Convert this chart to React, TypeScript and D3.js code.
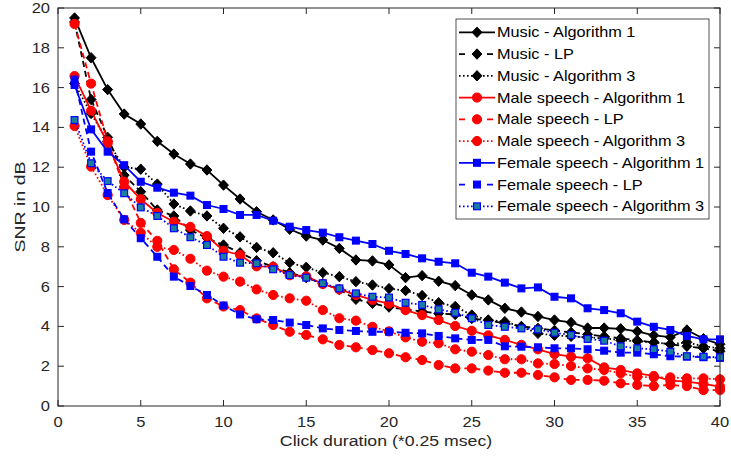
import React from "react";
import * as d3 from "d3";

const clickDuration = [1,2,3,4,5,6,7,8,9,10,11,12,13,14,15,16,17,18,19,20,21,22,23,24,25,26,27,28,29,30,31,32,33,34,35,36,37,38,39,40];

const musicAlg1 = [19.5,17.5,15.9,14.67,14.17,13.3,12.66,12.16,11.86,11.1,10.4,9.76,9.35,8.88,8.54,8.34,7.92,7.34,7.29,7.09,6.45,6.55,6.27,6.05,5.58,5.33,4.91,4.72,4.5,4.32,4.2,3.92,3.92,3.88,3.75,3.55,3.46,3.82,3.38,3.1];
const musicLP = [19.3,15.4,13.5,11.6,10.77,9.85,9.55,8.84,8.44,8.09,7.7,7.3,7.0,6.7,6.45,6.15,5.85,5.36,5.16,4.97,4.85,4.75,4.65,4.6,4.4,4.3,4.15,4.0,3.9,3.8,3.7,3.6,3.5,3.4,3.3,3.2,3.1,3.0,2.9,2.75];
const musicAlg3 = [16.2,14.7,13.3,12.0,11.9,11.15,10.15,9.8,9.55,8.93,8.5,7.97,7.7,7.2,6.97,6.7,6.5,6.25,6.08,5.9,5.8,5.55,5.19,5.0,4.57,4.32,4.24,3.98,3.65,3.55,3.5,3.45,3.4,3.3,3.25,3.2,3.1,3.2,3.0,2.9];
const maleAlg1 = [16.58,14.84,13.2,11.27,10.39,9.7,9.26,9.0,8.54,7.8,7.59,7.02,7.0,6.57,6.52,6.13,5.86,5.58,5.33,5.14,4.82,4.57,4.32,4.02,3.78,3.55,3.32,3.07,2.85,2.61,2.48,2.4,1.94,1.81,1.64,1.51,1.27,1.22,1.11,0.97];
const maleLP = [19.2,16.2,13.3,11.0,9.2,8.3,6.87,6.2,5.41,5.0,4.82,4.4,4.07,3.73,3.57,3.35,3.07,2.95,2.81,2.65,2.45,2.31,2.06,1.89,1.89,1.78,1.67,1.67,1.56,1.44,1.31,1.31,1.27,1.14,1.06,1.0,1.06,1.0,0.8,0.8];
const maleAlg3 = [14.07,12.03,10.6,9.35,8.7,8.0,7.84,7.4,6.8,6.5,6.25,5.86,5.58,5.41,5.29,4.82,4.41,4.29,3.98,3.75,3.45,3.23,3.15,2.85,2.73,2.56,2.35,2.35,2.14,2.11,2.01,1.89,1.81,1.64,1.47,1.44,1.44,1.39,1.39,1.34];
const femaleAlg1 = [16.13,13.9,12.78,12.1,11.27,10.97,10.72,10.57,10.1,9.9,9.6,9.6,9.31,9.01,8.84,8.71,8.48,8.31,8.14,7.8,7.64,7.42,7.25,7.17,6.7,6.5,6.2,5.91,5.96,5.49,5.41,4.91,4.82,4.66,4.24,3.98,3.82,3.52,3.35,3.35];
const femaleLP = [16.4,12.78,10.7,9.38,8.43,7.5,6.5,6.03,5.58,5.05,4.6,4.36,4.32,4.19,4.07,3.9,3.82,3.77,3.73,3.73,3.68,3.65,3.52,3.4,3.32,3.32,3.0,2.98,2.95,2.9,2.9,2.85,2.78,2.68,2.68,2.6,2.5,2.48,2.45,2.42];
const femaleAlg3 = [14.37,12.2,11.3,10.69,9.98,9.55,8.93,8.48,8.09,7.5,7.2,7.17,6.87,6.58,6.45,6.17,5.91,5.66,5.49,5.45,5.19,5.08,4.86,4.69,4.41,4.07,3.98,3.9,3.85,3.68,3.57,3.37,3.28,3.0,2.9,2.85,2.73,2.5,2.48,2.45];

const seriesNames = [
  "Music - Algorithm 1", "Music - LP", "Music - Algorithm 3",
  "Male speech - Algorithm 1", "Male speech - LP", "Male speech - Algorithm 3",
  "Female speech - Algorithm 1", "Female speech - LP", "Female speech - Algorithm 3",
];
const seriesValues = [musicAlg1, musicLP, musicAlg3, maleAlg1, maleLP, maleAlg3, femaleAlg1, femaleLP, femaleAlg3];
const seriesColors = ["#000000", "#000000", "#000000", "#ff0000", "#ff0000", "#ff0000", "#0000ff", "#0000ff", "#0000ff"];
const seriesFills = ["#000000", "#000000", "#000000", "#ff0000", "#ff0000", "#ff0000", "#0000ff", "#0000ff", "#1a7f9c"];
const seriesDash = ["none", "6,4", "1.6,2.4", "none", "6,4", "1.6,2.4", "none", "6,4", "1.6,2.4"];
const seriesMarkers = ["diamond", "diamond", "diamond", "circle", "circle", "circle", "square", "square", "square"];

const xTicks = [0, 5, 10, 15, 20, 25, 30, 35, 40];
const yTicks = [0, 2, 4, 6, 8, 10, 12, 14, 16, 18, 20];

const W = 731, H = 457;
const L = 58, R = 720, T = 8, B = 406;
const AX = "#262626";
const FONT = "'Liberation Sans', Arial, Helvetica, sans-serif";
const SX = 1.18;

function Marker({ kind, x, y, stroke, fill }: { kind: string; x: number; y: number; stroke: string; fill: string }) {
  if (kind === "diamond") {
    const r = 5.2;
    return <path d={`M${x},${y - r}L${x + r * 0.95},${y}L${x},${y + r}L${x - r * 0.95},${y}Z`} fill={fill} stroke={stroke} strokeWidth={1} />;
  }
  if (kind === "circle") {
    return <circle cx={x} cy={y} r={4.6} fill={fill} stroke={stroke} strokeWidth={1} />;
  }
  const s = 3.4;
  return <rect x={x - s} y={y - s} width={2 * s} height={2 * s} fill={fill} stroke={stroke} strokeWidth={1.2} />;
}

function SText({ x, y, anchor, size, children, rotate }: any) {
  const tr = rotate ? `translate(${x},${y}) rotate(-90) scale(1.3,1)` : `translate(${x},${y}) scale(${SX},1)`;
  return (
    <text transform={tr} textAnchor={anchor} fontSize={size} fontFamily={FONT} fill={AX}>
      {children}
    </text>
  );
}

export default function App() {
  const x = d3.scaleLinear().domain([0, 40]).range([L, R]);
  const y = d3.scaleLinear().domain([0, 20]).range([B, T]);
  const line = d3.line<number>().x((_, i) => x(clickDuration[i])).y((d) => y(d));

  const legX = 456, legY = 19, legW = 253, legH = 200;
  const rowY = (i: number) => 32.3 + i * 21.75;

  return (
    <>
      <style>{`body{margin:0}`}</style>
      <svg width={W} height={H} style={{ display: "block", background: "#fff" }}>
        <rect x={0} y={0} width={W} height={H} fill="#fff" />
        {seriesValues.map((vals, si) => (
          <g key={si}>
            <path d={line(vals) || ""} fill="none" stroke={seriesColors[si]} strokeWidth={1.8} strokeDasharray={seriesDash[si]} />
            {vals.map((v, i) => (
              <Marker key={i} kind={seriesMarkers[si]} x={x(clickDuration[i])} y={y(v)} stroke={seriesColors[si]} fill={seriesFills[si]} />
            ))}
          </g>
        ))}
        <rect x={L} y={T} width={R - L} height={B - T} fill="none" stroke={AX} strokeWidth={1} />
        {xTicks.map((t) => (
          <g key={"x" + t}>
            <line x1={x(t)} x2={x(t)} y1={B} y2={B - 6} stroke={AX} />
            <line x1={x(t)} x2={x(t)} y1={T} y2={T + 6} stroke={AX} />
            <SText x={x(t)} y={427} anchor="middle" size={14}>{t}</SText>
          </g>
        ))}
        {yTicks.map((t) => (
          <g key={"y" + t}>
            <line x1={L} x2={L + 6} y1={y(t)} y2={y(t)} stroke={AX} />
            <line x1={R} x2={R - 6} y1={y(t)} y2={y(t)} stroke={AX} />
            <SText x={50} y={y(t) + 5} anchor="end" size={14}>{t}</SText>
          </g>
        ))}
        <SText x={(L + R) / 2 - 3} y={446} anchor="middle" size={15}>Click duration (*0.25 msec)</SText>
        <SText x={25} y={(T + B) / 2} anchor="middle" size={15} rotate>SNR in dB</SText>
        <rect x={legX} y={legY} width={legW} height={legH} fill="#fff" stroke={AX} strokeWidth={0.8} />
        {seriesNames.map((name, i) => (
          <g key={"l" + i}>
            <line x1={459} x2={495} y1={rowY(i)} y2={rowY(i)} stroke={seriesColors[i]} strokeWidth={1.8} strokeDasharray={seriesDash[i] === "6,4" ? "6,8" : seriesDash[i]} />
            <Marker kind={seriesMarkers[i]} x={477} y={rowY(i)} stroke={seriesColors[i]} fill={seriesFills[i]} />
            <text transform={`translate(497,${rowY(i) + 5}) scale(${SX},1)`} fontSize={13.8} fontFamily={FONT} fill="#000">{name}</text>
          </g>
        ))}
      </svg>
    </>
  );
}
